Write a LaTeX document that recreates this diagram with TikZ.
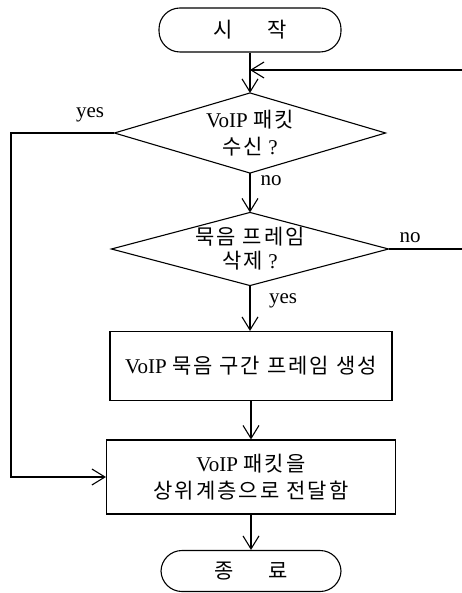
\documentclass[tikz,border=0pt]{standalone}
\usepackage{fontspec}
\setmainfont{Liberation Serif}
\newfontfamily\kr[LetterSpace=10]{Noto Sans CJK KR}
\usetikzlibrary{arrows.meta}
\newcommand\K[1]{{\kr\fontsize{21}{27}\selectfont #1}}
\begin{document}
\begin{tikzpicture}[x=1pt,y=-1pt,line width=1.1pt,
  txt/.style={font=\fontsize{21}{27}\selectfont},
  term/.style={draw,rounded corners=21pt,minimum width=182pt,inner sep=0pt,txt},
  dec/.style={rectangle,inner sep=0pt,align=center,txt},
  proc/.style={draw,rectangle,inner sep=0pt,align=center,txt},
  arr/.style={-{Straight Barb[length=13pt,width=16pt]}},
  lbl/.style={inner sep=0pt,txt}]
\useasboundingbox (0,0) rectangle (462,593);
\node[term,minimum height=44pt] (start) at (250,30) {\K{시\hspace{34pt}작}};
\node[dec,minimum width=270pt,minimum height=79pt] (d1) at (250,133) {VoIP \K{패킷}\\\K{수신} ?};
\draw (d1.north) -- (d1.east) -- (d1.south) -- (d1.west) -- cycle;
\node[dec,minimum width=276pt,minimum height=72pt] (d2) at (250,249) {\K{묵음 프레임}\\[-3pt]\K{삭제} ?};
\draw (d2.north) -- (d2.east) -- (d2.south) -- (d2.west) -- cycle;
\node[proc,minimum width=282pt,minimum height=69pt] (p1) at (251,366) {VoIP \K{묵음 구간 프레임 생성}};
\node[proc,minimum width=289pt,minimum height=74pt] (p2) at (251,477) {VoIP \K{패킷을}\\\K{상위계층으로 전달함}};
\node[term,minimum height=41pt,minimum width=180pt] (end) at (251,571) {\K{종\hspace{34pt}료}};
\coordinate (fbR) at (462,70);
\coordinate (L) at (11,0);
\draw[arr] (start.south) -- (d1.north);
\draw[arr] (fbR) -- (fbR -| d1.north);
\draw[arr] (d1.south) -- (d2.north);
\draw (d2.east) -- (d2.east -| fbR);
\draw[arr] (d2.south) -- (d2.south |- p1.north);
\draw[arr] (p1.south) -- (p1.south |- p2.north);
\draw[arr] (p2.south) -- (p2.south |- end.north);
\draw[arr] (d1.west) -- (d1.west -| L) |- (p2.west);
\node[lbl] (y1) at (90,115) {yes};
\node[lbl] (n1) at (271,181) {no};
\node[lbl] (n2) at (410,238) {no};
\node[lbl] (y2) at (283,301) {yes};
\end{tikzpicture}
\end{document}
